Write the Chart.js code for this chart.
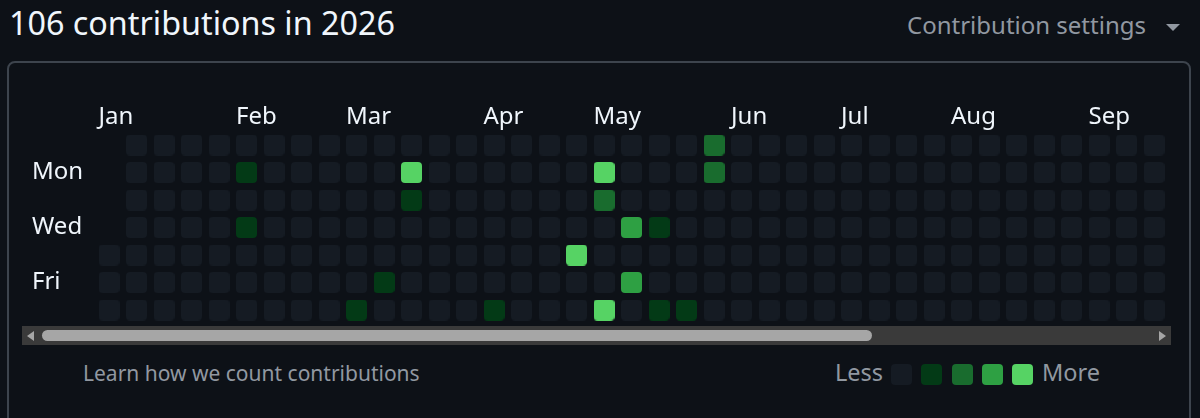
<!DOCTYPE html>
<html><head><meta charset="utf-8">
<script src="https://cdn.jsdelivr.net/npm/chart.js@4.4.1/dist/chart.umd.min.js"></script>
<style>
html,body{margin:0;padding:0;background:#0d1117;width:1200px;height:418px;overflow:hidden;font-family:"Noto Sans",sans-serif;}
.abs{position:absolute;white-space:nowrap;}
#title{left:9px;top:2px;font-size:32.3px;line-height:40px;color:#f0f6fc;}
#settings{left:907px;top:9px;font-size:24px;line-height:32px;color:#9198a1;}
#caret{left:1166px;top:24px;width:0;height:0;border-left:7.5px solid transparent;border-right:7.5px solid transparent;border-top:7px solid #9198a1;}
#box{left:7px;top:61px;width:1180px;height:420px;border:2px solid #3d444d;border-radius:8px;}
#chartWrap{left:32px;top:90px;width:1139px;height:240px;}
#scroll{left:22px;top:326px;width:1149px;height:19px;background:#3a3a3a;}
#thumb{left:42px;top:330px;width:830px;height:11px;background:#a6a6a6;border-radius:6px;}
#larr{left:27px;top:331px;width:0;height:0;border-top:5px solid transparent;border-bottom:5px solid transparent;border-right:7px solid #a6a6a6;}
#rarr{left:1159px;top:331px;width:0;height:0;border-top:5px solid transparent;border-bottom:5px solid transparent;border-left:7px solid #a6a6a6;}
#learn{left:83px;top:357px;font-size:21px;line-height:32px;color:#9198a1;}
#less{left:835px;top:356px;font-size:23.5px;line-height:32px;color:#9198a1;}
#more{left:1042px;top:356px;font-size:23.5px;line-height:32px;color:#9198a1;}
.lg{position:absolute;top:364px;width:21px;height:21px;border-radius:4px;}
</style></head>
<body>
<div id="title" class="abs">106 contributions in 2026</div>
<div id="settings" class="abs">Contribution settings</div>
<div id="caret" class="abs"></div>
<div id="box" class="abs"></div>
<div id="chartWrap" class="abs"><canvas id="c" width="1139" height="240" style="width:1139px;height:240px"></canvas></div>
<div id="scroll" class="abs"></div>
<div id="thumb" class="abs"></div>
<div id="larr" class="abs"></div>
<div id="rarr" class="abs"></div>
<div id="learn" class="abs">Learn how we count contributions</div>
<div id="less" class="abs">Less</div>
<div id="more" class="abs">More</div>
<div id="legendCells"></div>
<script>
const year = 2026;
const weekdayLabels = ['Sun','Mon','Tue','Wed','Thu','Fri','Sat'];
const shownWeekdays = [1, 3, 5];
const monthNames = ['Jan','Feb','Mar','Apr','May','Jun','Jul','Aug','Sep','Oct','Nov','Dec'];
const activeDates = ['2026-02-02','2026-02-04','2026-03-07','2026-03-13','2026-03-16','2026-03-17',
  '2026-04-11','2026-04-30','2026-05-04','2026-05-05','2026-05-09','2026-05-13','2026-05-15',
  '2026-05-20','2026-05-23','2026-05-30','2026-05-31','2026-06-01'];
const activeCounts = [2,1,3,2,14,2,1,12,15,6,13,9,8,3,2,2,5,6];
const levelThresholds = [1, 4, 7, 10];
const levelColors = ['#151b23','#033a16','#196c2e','#2ea043','#56d364'];

function levelOf(v){ let l = 0; levelThresholds.forEach((t,i)=>{ if (v >= t) l = i+1; }); return l; }

// build calendar cells (one per day of the year)
const countByDate = {};
activeDates.forEach((d,i)=>{ countByDate[d] = activeCounts[i]; });
const startDow = new Date(Date.UTC(year,0,1)).getUTCDay();
const cells = [];
const monthCols = [];
let lastMonth = -1;
for (let i = 0; ; i++) {
  const dt = new Date(Date.UTC(year,0,1+i));
  if (dt.getUTCFullYear() !== year) break;
  const col = Math.floor((i + startDow) / 7);
  const row = dt.getUTCDay();
  const key = dt.toISOString().slice(0,10);
  cells.push({x: col, y: row, v: countByDate[key] || 0});
  const isFirstInCol = (i === 0 || row === 0);
  if (isFirstInCol && dt.getUTCMonth() !== lastMonth) {
    lastMonth = dt.getUTCMonth();
    monthCols.push({col: col, month: lastMonth});
  }
}

function makeCell(color){
  const c = document.createElement('canvas');
  c.width = 21; c.height = 21;
  const g = c.getContext('2d');
  const r = 4, w = 21, h = 21;
  g.fillStyle = color;
  g.beginPath();
  g.moveTo(r,0); g.lineTo(w-r,0); g.quadraticCurveTo(w,0,w,r);
  g.lineTo(w,h-r); g.quadraticCurveTo(w,h,w-r,h);
  g.lineTo(r,h); g.quadraticCurveTo(0,h,0,h-r);
  g.lineTo(0,r); g.quadraticCurveTo(0,0,r,0);
  g.closePath(); g.fill();
  return c;
}
const cellImgs = levelColors.map(makeCell);

// legend swatches
const lgWrap = document.getElementById('legendCells');
levelColors.forEach((col,i)=>{
  const d = document.createElement('div');
  d.className = 'lg'; d.style.left = (891 + i*30.3) + 'px'; d.style.background = col;
  lgWrap.appendChild(d);
});

const axisFont = {family:'Noto Sans', size:24};
const chart = new Chart(document.getElementById('c'), {
  type: 'scatter',
  data: { datasets: [{
    data: cells,
    pointStyle: ctx => cellImgs[levelOf(ctx.raw ? ctx.raw.v : 0)],
    pointRadius: 10.5, pointHoverRadius: 10.5, pointBorderWidth: 0,
    clip: {left: 40, top: 40, right: 40, bottom: 40}
  }]},
  options: {
    responsive: false, animation: false, events: [],
    layout: {padding: 0},
    plugins: {legend: {display:false}, tooltip: {enabled:false}},
    scales: {
      x: {
        type: 'linear', position: 'top', min: -0.5, max: 38.5,
        grid: {display:false, drawTicks:false}, border: {display:false},
        afterBuildTicks: s => { s.ticks = monthCols.filter(m => m.col - 0.382 <= s.max).map(m => ({value: m.col - 0.382})); },
        afterFit: s => { s.height = 43; },
        ticks: {
          align: 'start', padding: 1, color: '#f0f6fc', font: axisFont, autoSkip: false, maxRotation: 0,
          callback: (v, i) => monthNames[monthCols[i].month]
        }
      },
      y: {
        type: 'linear', reverse: true, min: -0.5, max: 6.5,
        grid: {display:false, drawTicks:false}, border: {display:false},
        afterBuildTicks: s => { s.ticks = shownWeekdays.map(d => ({value: d})); },
        afterFit: s => { s.width = 63; },
        ticks: { crossAlign: 'far', padding: 0, color: '#f0f6fc', font: axisFont, autoSkip: false,
          callback: v => weekdayLabels[v] }
      }
    }
  }
});

// calibrate scale range so that the cell pitch / origin match the layout
const a = chart.chartArea;
const firstColX = 109 - 32, firstRowY = 145 - 90, pitch = 27.5;
const xs = chart.options.scales.x, ys = chart.options.scales.y;
xs.min = -(firstColX - a.left) / pitch; xs.max = xs.min + (a.right - a.left) / pitch;
ys.min = -(firstRowY - a.top) / pitch;  ys.max = ys.min + (a.bottom - a.top) / pitch;
chart.update();
</script>
</body></html>
